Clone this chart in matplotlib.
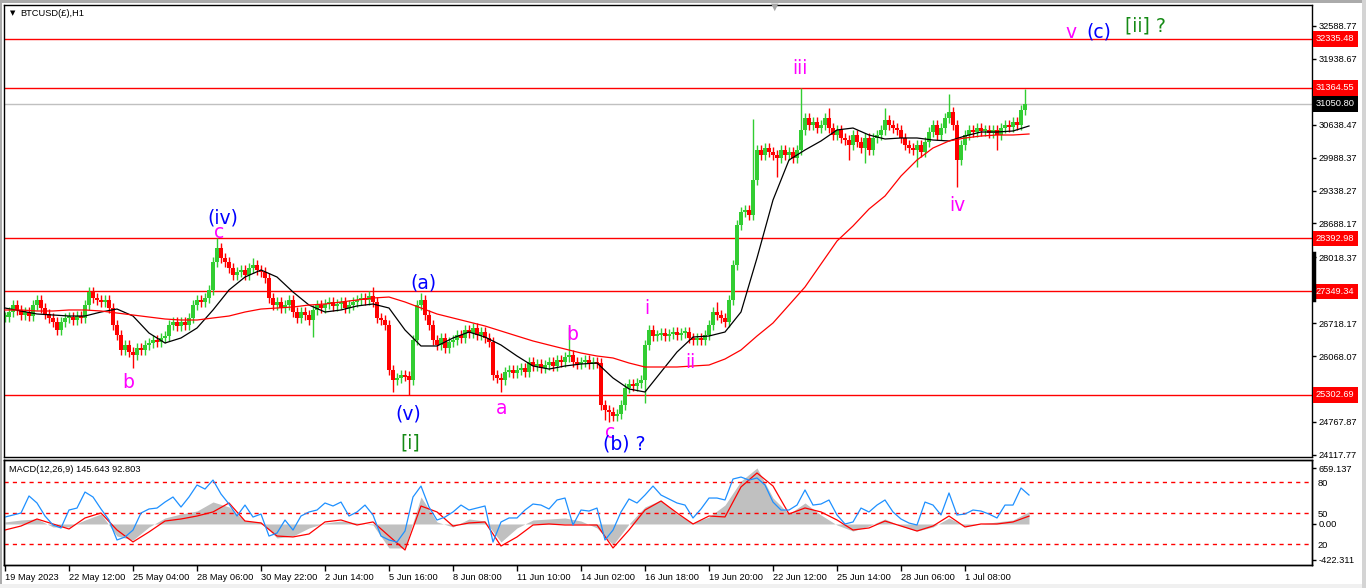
import numpy as np
import matplotlib
matplotlib.use('agg')
import matplotlib.pyplot as plt
from matplotlib import transforms
from matplotlib.patches import Rectangle
from matplotlib.lines import Line2D

W, H = 1366, 588

# BTCUSD H1, closes read every 4 bars (19 May 2023 -> 3 Jul 2023)
closes = [
    26841, 26940, 27078, 26980, 26881, 26940, 26861, 27078, 27177, 27019, 26901, 26822, 26743, 26585, 26743, 26822,
    26841, 26782, 26861, 26822, 27078, 27335, 27217, 27177, 27138, 27177, 27019, 26683, 26486, 26190, 26288, 26150,
    26091, 26229, 26190, 26288, 26328, 26387, 26348, 26427, 26466, 26683, 26743, 26664, 26743, 26683, 26822, 27078,
    27177, 27138, 27217, 27375, 27928, 28204, 28007, 27928, 27809, 27671, 27730, 27770, 27671, 27809, 27868, 27770,
    27730, 27612, 27217, 27078, 27138, 27019, 27078, 27177, 26940, 26822, 26940, 26881, 26782, 26980, 27078, 27019,
    27098, 27138, 27059, 27098, 27138, 27019, 27078, 27138, 27177, 27217, 27177, 27256, 27138, 26822, 26782, 26683,
    25795, 25597, 25637, 25696, 25676, 25597, 26387, 27078, 27177, 26881, 26683, 26387, 26288, 26427, 26229, 26348,
    26387, 26486, 26427, 26585, 26525, 26624, 26486, 26545, 26427, 26348, 25696, 25637, 25597, 25755, 25795, 25735,
    25795, 25834, 25755, 25953, 25874, 25913, 25834, 25893, 25953, 25874, 25992, 25953, 26051, 26091, 25953, 25913,
    25953, 25992, 25913, 25953, 25933, 25103, 25005, 24965, 24886, 24926, 25103, 25439, 25518, 25479, 25538, 25597,
    26288, 26585, 26466, 26486, 26525, 26466, 26506, 26545, 26486, 26525, 26545, 26427, 26387, 26427, 26387, 26486,
    26683, 26940, 26881, 26822, 26743, 27177, 27868, 28658, 28915, 28955, 28856, 29547, 30140, 30041, 30179, 30100,
    30041, 29982, 30140, 30041, 30100, 29982, 30140, 30535, 30772, 30633, 30693, 30574, 30633, 30772, 30574, 30436,
    30535, 30377, 30337, 30238, 30436, 30298, 30179, 30377, 30140, 30377, 30436, 30535, 30732, 30633, 30574, 30535,
    30377, 30238, 30179, 30140, 30238, 30100, 30298, 30495, 30633, 30436, 30574, 30772, 30890, 30633, 29942, 30238,
    30436, 30535, 30495, 30574, 30515, 30535, 30475, 30535, 30436, 30574, 30633, 30594, 30693, 30633, 30930, 31050.80,
]
# long wicks (bar index -> price)
spike_hi = {21: 27434, 53: 28402, 62: 28007, 92: 27434, 104: 27315, 141: 26644, 178: 27138,
            187: 30752, 199: 31364, 206: 30969, 220: 30969, 236: 31246, 255: 31345}
spike_lo = {13: 26525, 32: 25834, 77: 26446, 97: 25360, 101: 25301, 124: 25360, 150: 24807,
            151: 24768, 160: 25143, 193: 29606, 211: 29942, 215: 29883, 228: 29804, 238: 29409, 248: 30140}

# moving averages, every 16 bars
ma_fast = [
    27019, 26960, 26901, 26881, 26861, 26861, 26940, 26999, 26861, 26525,
    26328, 26427, 26624, 26980, 27375, 27631, 27770, 27631, 27335, 27078,
    26940, 26980, 27059, 27098, 27019, 26585, 26269, 26269, 26427, 26545,
    26446, 26288, 26071, 25874, 25814, 25874, 25913, 25933, 25637, 25420,
    25360, 25755, 26150, 26446, 26466, 26545, 26940, 28007, 29152, 29942,
    30140, 30318, 30535, 30574, 30436, 30357, 30377, 30377, 30337, 30318,
    30416, 30495, 30495, 30515, 30614,
]
ma_slow = [
    26980, 26980, 26960, 26960, 26980, 26980, 26960, 26920, 26881, 26841,
    26802, 26782, 26782, 26822, 26861, 26940, 26999, 27019, 27039, 27078,
    27098, 27138, 27177, 27217, 27236, 27138, 27019, 26901, 26822, 26743,
    26664, 26565, 26466, 26368, 26288, 26209, 26130, 26071, 26032, 25933,
    25854, 25854, 25854, 25874, 25893, 26012, 26190, 26466, 26723, 27078,
    27434, 27888, 28342, 28639, 28974, 29231, 29626, 29942, 30179, 30318,
    30377, 30416, 30436, 30436, 30456,
]

# oscillator (blue, 0-100), every 8 bars
osc = [
    46.1, 48.1, 50.0, 66.5, 59.7, 47.1, 38.4, 35.5, 52.9, 54.8,
    70.3, 65.5, 53.9, 43.2, 23.9, 26.8, 33.5, 50.0, 53.9, 54.8,
    60.6, 65.5, 55.8, 65.5, 77.1, 73.2, 81.9, 68.4, 58.7, 47.1,
    57.7, 46.1, 49.0, 27.7, 30.6, 43.2, 33.5, 47.1, 51.0, 52.9,
    59.7, 56.8, 60.6, 47.1, 51.0, 57.7, 48.1, 27.7, 23.9, 21.9,
    32.6, 65.5, 76.1, 55.8, 43.2, 46.1, 51.0, 57.7, 52.9, 54.8,
    56.8, 21.9, 41.3, 45.2, 45.2, 52.9, 58.7, 57.7, 53.9, 62.6,
    64.5, 38.4, 52.9, 51.9, 54.8, 23.9, 33.5, 51.0, 63.6, 59.7,
    67.4, 76.1, 67.4, 63.6, 59.7, 57.7, 45.2, 53.9, 64.5, 64.5,
    62.6, 82.9, 84.8, 81.9, 83.9, 77.1, 60.6, 52.9, 52.9, 57.7,
    72.3, 57.7, 58.7, 62.6, 48.1, 39.4, 41.3, 54.8, 51.0, 57.7,
    62.6, 51.0, 44.2, 40.3, 38.4, 60.6, 57.7, 48.1, 69.4, 48.1,
    49.0, 52.9, 51.9, 49.0, 45.2, 57.7, 57.7, 74.2, 67.4,
]
# MACD(12,26,9) main (grey histogram) and signal (red), every 16 bars
macd_main = [
    24, 47, 59, -35, -35, 47, 118, -142, -189, -35,
    71, 118, 153, 260, 201, 35, 24, -165, -142, -47,
    12, 35, 12, -12, -283, -283, 319, 24, -35, 59,
    35, -212, -47, 47, 59, 71, 35, -47, -248, 0,
    201, 283, 118, 12, 83, 224, 507, 661, 307, 118,
    248, 106, -12, -83, -24, 59, -24, -83, -35, 71,
    -24, 0, 24, 47, 145.643,
]
macd_signal = [
    -71, -24, 59, 0, -59, 71, 130, -71, -212, -94,
    35, 59, 94, 142, 248, 35, 12, -142, -153, -118,
    24, 47, -12, 24, -142, -307, 212, 142, -24, 12,
    24, -260, -153, -12, 0, -12, -12, -12, -283, -71,
    165, 271, 130, 0, 94, 83, 437, 602, 448, 118,
    189, 142, 47, -71, -47, 35, -24, -83, -24, 94,
    -35, 0, 0, 24, 92.803,
]

levels = [32335.48, 31364.55, 28392.98, 27349.34, 25302.69]
bid = 31050.80
price_ticks = [32588.77, 31938.67, 31288.57, 30638.47, 29988.37, 29338.27, 28688.17,
               28018.37, 26718.17, 26068.07, 25417.97, 24767.87, 24117.77]
time_labels = ['19 May 2023', '22 May 12:00', '25 May 04:00', '28 May 06:00', '30 May 22:00',
               '2 Jun 14:00', '5 Jun 16:00', '8 Jun 08:00', '11 Jun 10:00', '14 Jun 02:00',
               '16 Jun 18:00', '19 Jun 20:00', '22 Jun 12:00', '25 Jun 14:00', '28 Jun 06:00',
               '1 Jul 08:00']

MAG, BLU, GRN = '#FF00FF', '#0000FF', '#158A15'
waves = [
    (54.5, 28797, '(iv)', BLU), (53.5, 28520, 'c', MAG), (30.75, 25538, 'b', MAG),
    (104.5, 27513, '(a)', BLU), (100.75, 24926, '(v)', BLU), (101.25, 24353, '[i]', GRN),
    (124.25, 25044, 'a', MAG), (141.75, 26486, 'b', MAG), (151.25, 24570, 'c', MAG),
    (154.75, 24333, '(b) ?', BLU), (160.5, 27019, 'i', MAG), (171.25, 25933, 'ii', MAG),
    (198.75, 31759, 'iii', MAG), (238, 29034, 'iv', MAG), (266.5, 32470, 'v', MAG),
    (273.5, 32470, '(c)', BLU), (285, 32589, '[ii] ?', GRN),
]

plt.rcParams['font.family'] = ['Liberation Sans', 'DejaVu Sans']
FS = 6.7

fig = plt.figure(figsize=(W / 100, H / 100), dpi=100)
fig.patch.set_facecolor('white')


def px_axes(x0, y0, x1, y1):
    return fig.add_axes([x0 / W, 1 - y1 / H, (x1 - x0) / W, (y1 - y0) / H])


ax = px_axes(4, 5, 1312, 457)
am = px_axes(4, 460, 1312, 565)
XL = (-0.25, 326.75)

# ---- price panel
c = np.array(closes, dtype=float)
o = np.r_[c[0], c[:-1]]
wick = 90
hi = np.maximum(o, c) + wick
lo = np.minimum(o, c) - wick
for k, v in spike_hi.items():
    hi[k] = max(hi[k], v)
for k, v in spike_lo.items():
    lo[k] = min(lo[k], v)
x = np.arange(len(c))
up = c >= o
cols = np.where(up, '#32CD32', '#FF0000')

for v in levels:
    ax.axhline(v, color='#FF0000', lw=1, zorder=1)
ax.axhline(bid, color='#C0C0C0', lw=1, zorder=1)

ax.vlines(x, lo, hi, colors=cols, lw=1.0, zorder=2)
body = np.where(np.abs(c - o) < 40, np.where(up, 40, -40), c - o)
ax.bar(x, body, bottom=o, width=0.8, color=cols, lw=0, zorder=2)

xm = np.arange(len(ma_fast)) * 4
ax.plot(xm, ma_fast, color='black', lw=0.9, zorder=3)
ax.plot(xm, ma_slow, color='#FF0000', lw=0.9, zorder=3)

for xi, yi, t, col in waves:
    ax.text(xi, yi, t, color=col, fontsize=13.5, family='DejaVu Sans', ha='center', va='center', zorder=5)

ax.set_xlim(*XL)
ax.set_ylim(24076.5, 33003.5)
ax.yaxis.tick_right()
ax.set_yticks(price_ticks)
ax.set_yticklabels([f'{v:.2f}' for v in price_ticks])
ax.tick_params(axis='y', length=3, width=1, pad=2, labelsize=FS, colors='black')
ax.tick_params(axis='x', bottom=False, labelbottom=False)

tr = transforms.offset_copy(transforms.blended_transform_factory(ax.transAxes, ax.transData),
                            fig=fig, x=4, y=0, units='dots')
for v in levels:
    ax.text(1.0, v, f'{v:.2f}', transform=tr, ha='left', va='center', fontsize=FS, color='white',
            bbox=dict(boxstyle='square,pad=0.35', fc='#FF0000', ec='none'), clip_on=False, zorder=10)
ax.text(1.0, bid, f'{bid:.2f}', transform=tr, ha='left', va='center', fontsize=FS, color='white',
        bbox=dict(boxstyle='square,pad=0.35', fc='black', ec='none'), clip_on=False, zorder=10)

ax.text(9 / 1308, 1 - 8 / 452, '\u25bc', transform=ax.transAxes, fontsize=5, family='DejaVu Sans',
        ha='center', va='center')
ax.text(16 / 1308, 1 - 8 / 452, 'BTCUSD(\u00a3),H1', transform=ax.transAxes, fontsize=FS,
        ha='left', va='center')

# ---- MACD panel
xs = np.arange(len(macd_main)) * 4
am.fill_between(xs, 0, macd_main, color='#C0C0C0', lw=0, zorder=1)
am.plot(xs, macd_signal, color='#FF0000', lw=0.9, zorder=3)
am.set_xlim(*XL)
am.set_ylim(-484, 755)
am.set_xticks(np.arange(len(time_labels)) * 16)
am.set_xticklabels(time_labels)
for lb in am.get_xticklabels():
    lb.set_ha('left')
am.tick_params(axis='x', length=4, width=1, pad=2, labelsize=FS)
am.text(5 / 1308, 1 - 9 / 105, 'MACD(12,26,9) 145.643 92.803', transform=am.transAxes,
        fontsize=FS, ha='left', va='center')

a2 = am.twinx()
a2.set_ylim(-0.3, 101.3)
for lv in (80, 50, 20):
    a2.axhline(lv, color='#FF0000', lw=1, ls=(0, (3, 3)), zorder=1)
a2.plot(np.arange(len(osc)) * 2, osc, color='#1E90FF', lw=0.9, zorder=2)
a2.set_yticks([80, 50, 20])
a2.set_yticklabels(['80', '50', '20'])
a2.tick_params(axis='y', length=0, pad=4, labelsize=FS)
a2.set_xlim(*XL)

# twinx moves the host ticks to the left, put them back on the right
am.yaxis.tick_right()
am.set_yticks([659.137, 0, -422.311])
am.set_yticklabels(['659.137', '0.00', '-422.311'])
am.tick_params(axis='y', left=False, labelleft=False, right=True, labelright=True,
               length=3, width=1, pad=2, labelsize=FS)

for a in (ax, am, a2):
    for s in a.spines.values():
        s.set_color('black')
        s.set_linewidth(1)

# ---- window frame
fig.add_artist(Rectangle((0, 1 - 3 / H), 1, 3 / H, transform=fig.transFigure, fc='#ABABAB', ec='none'))
fig.add_artist(Rectangle((0, 0), 2 / W, 1, transform=fig.transFigure, fc='#ABABAB', ec='none'))
fig.add_artist(Rectangle((0, 0), 1, 4 / H, transform=fig.transFigure, fc='#F0F0F0', ec='none'))
fig.add_artist(Rectangle((1 - 4 / W, 0), 4 / W, 1, transform=fig.transFigure, fc='#D4D4D4', ec='none'))
fig.add_artist(Line2D([1313.5 / W] * 2, [1 - 253 / H, 1 - 300 / H], transform=fig.transFigure,
                      color='black', lw=2.5))
fig.text(775 / W, 1 - 7 / H, '\u25bc', color='#A8A8A8', fontsize=7, family='DejaVu Sans',
         ha='center', va='center')

fig.savefig('out.png', dpi=100)
